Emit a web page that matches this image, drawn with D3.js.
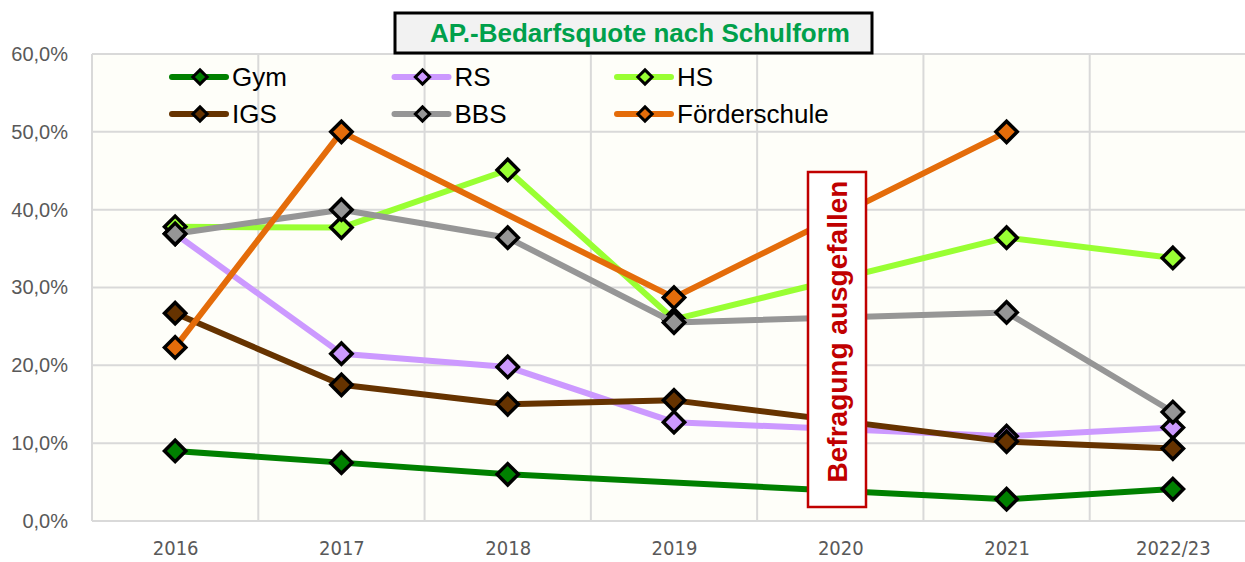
<!DOCTYPE html>
<html>
<head>
<meta charset="utf-8">
<script src="https://cdn.jsdelivr.net/npm/d3@7"></script>
<style>
  body { margin: 0; background: #ffffff; }
  svg { display: block; }
</style>
</head>
<body>
<div id="chart"></div>
<script>
var categories = ["2016", "2017", "2018", "2019", "2020", "2021", "2022/23"];
var yTicks = [0, 10, 20, 30, 40, 50, 60];

// Werte in Prozent, null = kein Wert (2020: Befragung ausgefallen)
var gym   = [9.0, 7.5, 6.0, null, null, 2.8, 4.1];
var rs    = [36.9, 21.5, 19.8, 12.7, null, 10.9, 12.0];
var hs    = [37.8, 37.7, 45.1, 25.9, null, 36.4, 33.8];
var igs   = [26.7, 17.5, 15.0, 15.5, null, 10.2, 9.3];
var bbs   = [36.9, 40.0, 36.4, 25.5, null, 26.8, 14.0];
var foerd = [22.3, 50.0, null, 28.7, null, 50.0, null];

var seriesNames = ["Gym", "RS", "HS", "IGS", "BBS", "Förderschule"];
var seriesColors = ["#008000", "#cc99ff", "#99ff33", "#663300", "#969696", "#e46c0a"];
var seriesValues = [gym, rs, hs, igs, bbs, foerd];

var width = 1245, height = 562;
var plotLeft = 92, plotRight = 1256, plotTop = 54, plotBottom = 521;

var svg = d3.select("#chart")
    .append("svg")
    .attr("width", width)
    .attr("height", height);

var x = d3.scalePoint()
    .domain(categories)
    .range([plotLeft, plotRight])
    .padding(0.5);

var y = d3.scaleLinear()
    .domain([0, 60])
    .range([plotBottom, plotTop]);

var step = x.step();

// plot area
svg.append("rect")
    .attr("x", plotLeft).attr("y", plotTop)
    .attr("width", plotRight - plotLeft).attr("height", plotBottom - plotTop)
    .attr("fill", "#fefef9");

// horizontal grid
svg.append("g")
    .selectAll("line")
    .data(yTicks)
    .enter().append("line")
    .attr("x1", plotLeft).attr("x2", plotRight)
    .attr("y1", function(d) { return y(d); })
    .attr("y2", function(d) { return y(d); })
    .attr("stroke", "#d9d9d9")
    .attr("stroke-width", 2);

// vertical grid between categories
svg.append("g")
    .selectAll("line")
    .data(d3.range(categories.length + 1))
    .enter().append("line")
    .attr("x1", function(i) { return plotLeft + i * step; })
    .attr("x2", function(i) { return plotLeft + i * step; })
    .attr("y1", plotTop).attr("y2", plotBottom)
    .attr("stroke", "#d9d9d9")
    .attr("stroke-width", 2);

// y axis labels
svg.append("g")
    .attr("transform", "translate(" + plotLeft + ",0)")
    .call(d3.axisLeft(y).tickValues(yTicks).tickSize(0).tickPadding(24)
        .tickFormat(function(d) { return d.toFixed(1).replace(".", ",") + "%"; }))
    .call(function(g) { g.select(".domain").remove(); })
    .selectAll("text")
    .attr("font-family", "'Liberation Sans', Arial, sans-serif")
    .attr("font-size", 20)
    .attr("fill", "#595959");

// x axis labels
svg.append("g")
    .attr("transform", "translate(0," + plotBottom + ")")
    .call(d3.axisBottom(x).tickSize(0).tickPadding(20))
    .call(function(g) { g.select(".domain").remove(); })
    .selectAll("text")
    .attr("font-family", "'Liberation Sans Narrow', 'DejaVu Sans Condensed', sans-serif")
    .attr("font-size", 20)
    .attr("fill", "#595959");

var line = d3.line()
    .x(function(d) { return x(d.cat); })
    .y(function(d) { return y(d.v); });

var diamond = d3.symbol().type(d3.symbolDiamond2).size(290);

seriesValues.forEach(function(vals, si) {
    var pts = vals.map(function(v, i) { return { cat: categories[i], v: v }; })
        .filter(function(d) { return d.v !== null; });
    var g = svg.append("g");
    g.append("path")
        .datum(pts)
        .attr("d", line)
        .attr("fill", "none")
        .attr("stroke", seriesColors[si])
        .attr("stroke-width", 6)
        .attr("stroke-linejoin", "round");
    g.selectAll(".mk")
        .data(pts)
        .enter().append("path")
        .attr("class", "mk")
        .attr("d", diamond)
        .attr("transform", function(d) { return "translate(" + x(d.cat) + "," + y(d.v) + ")"; })
        .attr("fill", seriesColors[si])
        .attr("stroke", "#000000")
        .attr("stroke-width", 3.5)
        .attr("stroke-linejoin", "miter");
});

// Befragung ausgefallen box (covers the lines)
var boxX = 808, boxY = 172, boxW = 58, boxH = 335;
svg.append("rect")
    .attr("x", boxX).attr("y", boxY)
    .attr("width", boxW).attr("height", boxH)
    .attr("fill", "#ffffff")
    .attr("stroke", "#c00000")
    .attr("stroke-width", 2.5);

svg.append("text")
    .attr("transform", "translate(" + (boxX + boxW / 2 + 10) + "," + (boxY + boxH / 2 - 8) + ") rotate(-90)")
    .attr("text-anchor", "middle")
    .attr("font-family", "'Liberation Sans', Arial, sans-serif")
    .attr("font-weight", "bold")
    .attr("font-size", 28)
    .attr("fill", "#c00000")
    .text("Befragung ausgefallen");

// legend
var legend = svg.append("g");
var legendDiamond = d3.symbol().type(d3.symbolDiamond2).size(130);
seriesNames.forEach(function(name, i) {
    var lx = 172 + (i % 3) * 222.5;
    var ly = 77 + Math.floor(i / 3) * 37;
    legend.append("line")
        .attr("x1", lx).attr("x2", lx + 54)
        .attr("y1", ly).attr("y2", ly)
        .attr("stroke", seriesColors[i])
        .attr("stroke-width", 6)
        .attr("stroke-linecap", "round");
    legend.append("path")
        .attr("d", legendDiamond)
        .attr("transform", "translate(" + (lx + 28) + "," + ly + ")")
        .attr("fill", seriesColors[i])
        .attr("stroke", "#000000")
        .attr("stroke-width", 3);
    legend.append("text")
        .attr("x", lx + 60).attr("y", ly + 9)
        .attr("font-family", "'Liberation Sans', Arial, sans-serif")
        .attr("font-size", 26)
        .attr("fill", "#000000")
        .text(name);
});

// title
svg.append("rect")
    .attr("x", 395).attr("y", 13)
    .attr("width", 477).attr("height", 40)
    .attr("fill", "#f2f2f2")
    .attr("stroke", "#000000")
    .attr("stroke-width", 3);

svg.append("text")
    .attr("x", 640).attr("y", 42)
    .attr("text-anchor", "middle")
    .attr("font-family", "'Liberation Sans', Arial, sans-serif")
    .attr("font-weight", "bold")
    .attr("font-size", 26)
    .attr("fill", "#00a04b")
    .text("AP.-Bedarfsquote nach Schulform");
</script>
</body>
</html>
